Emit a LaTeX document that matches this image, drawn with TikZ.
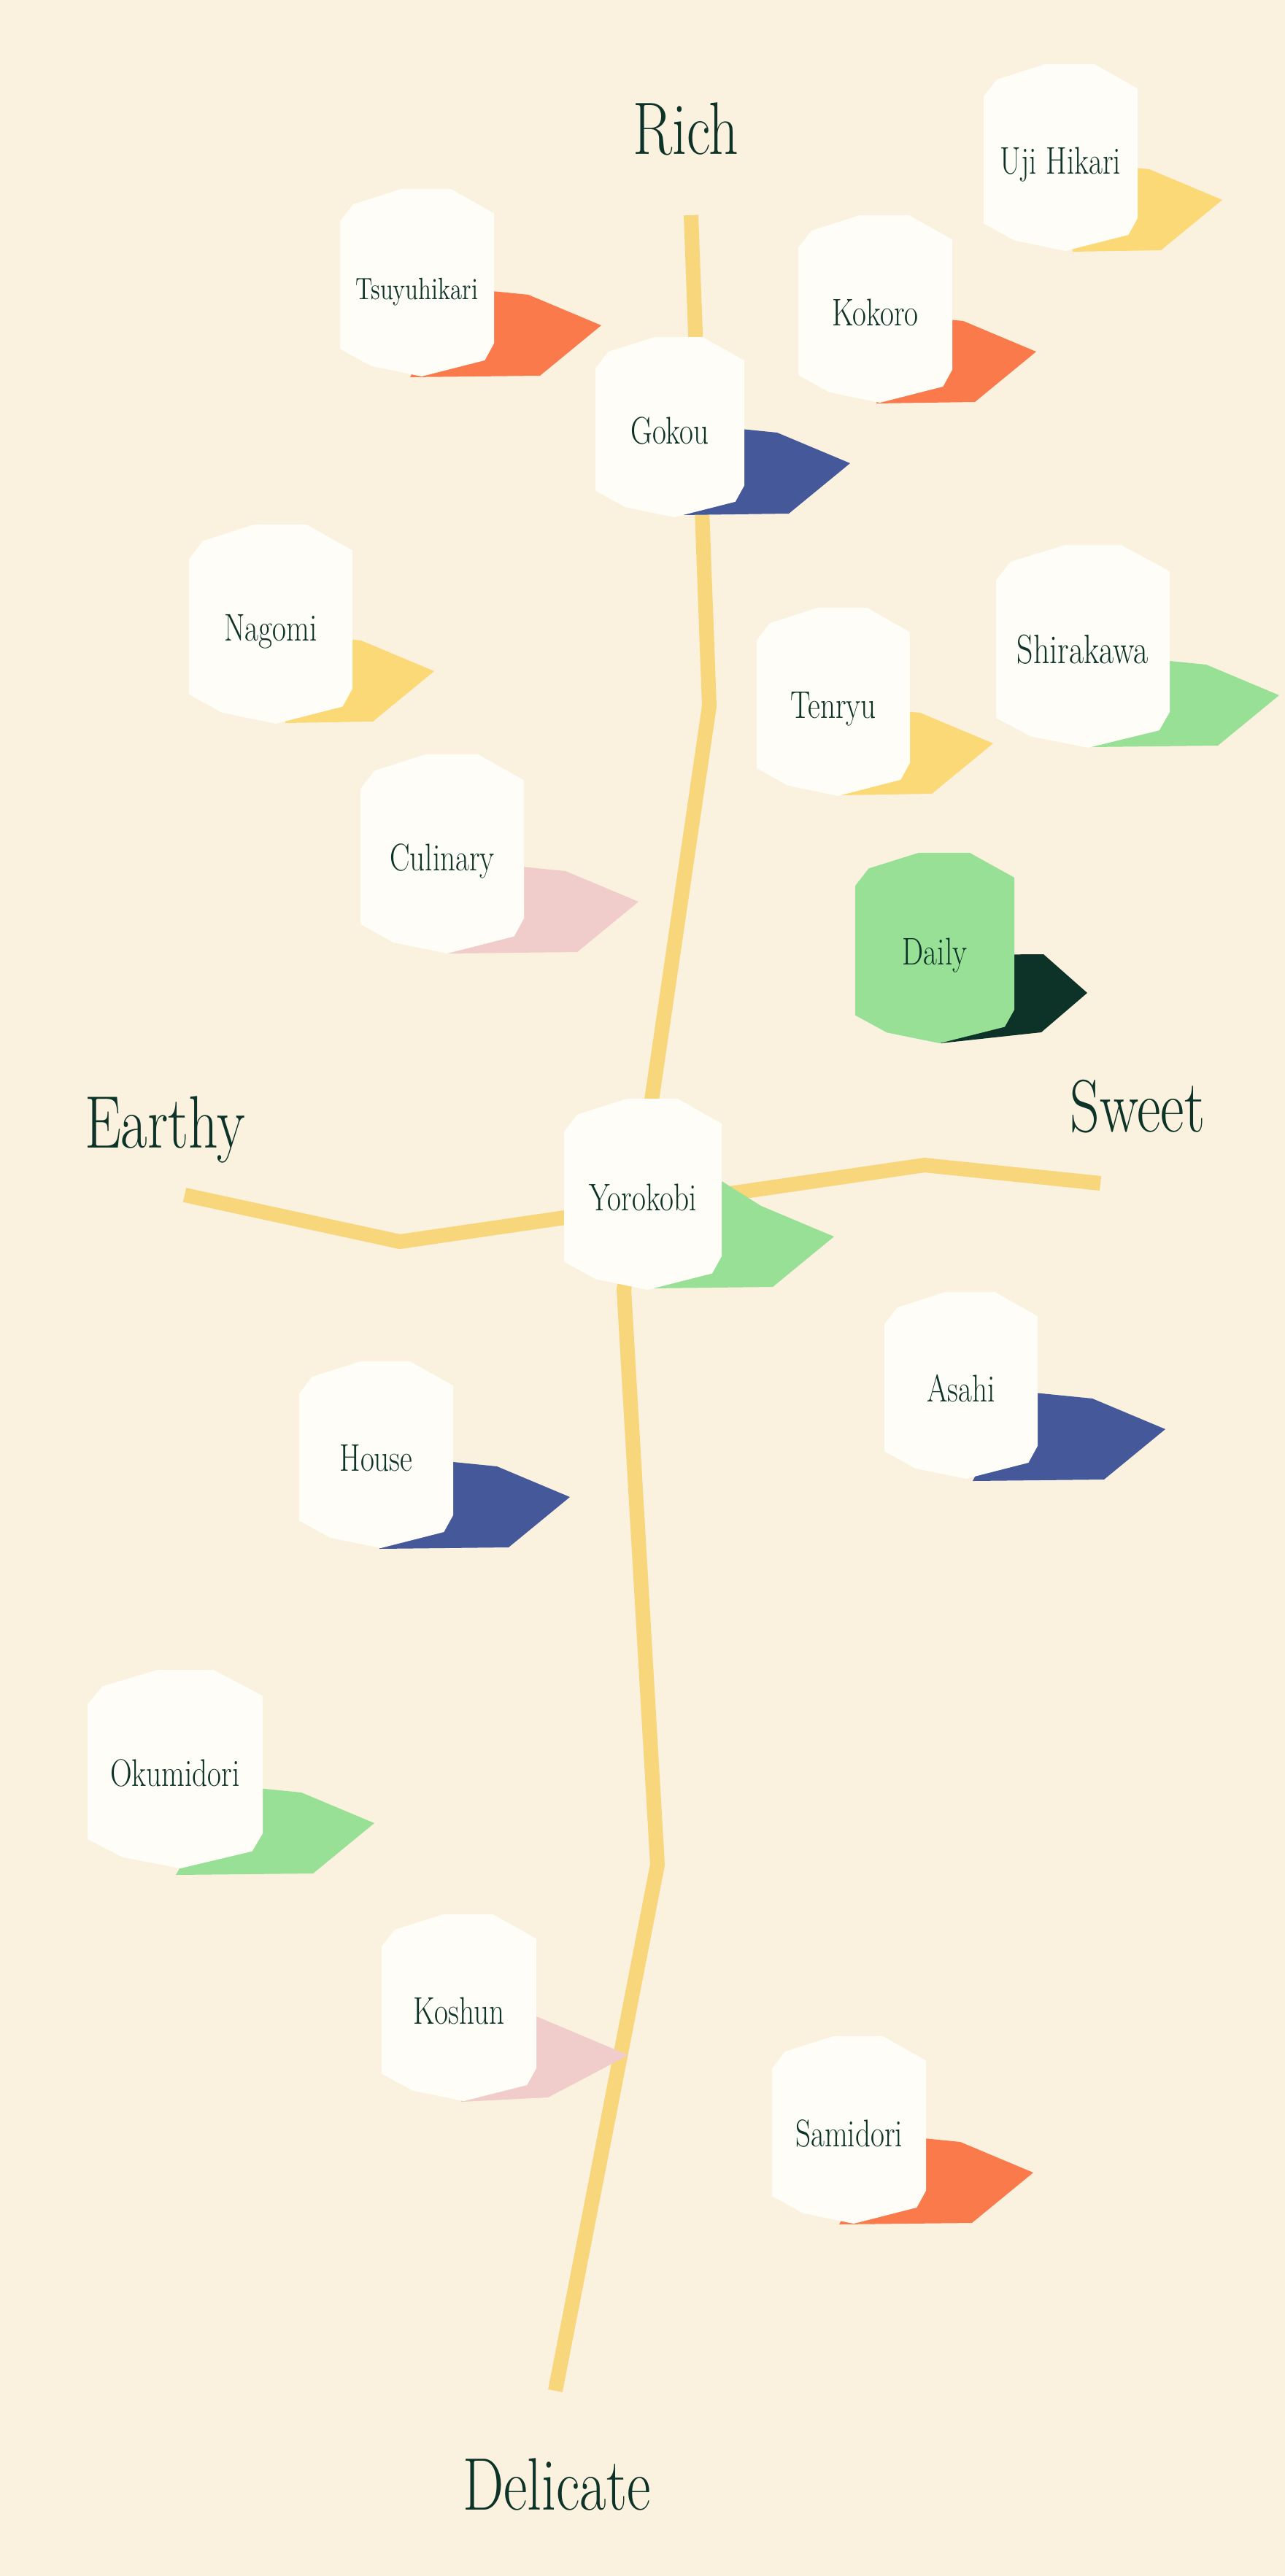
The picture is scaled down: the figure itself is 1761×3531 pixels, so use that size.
\documentclass[tikz,border=0pt]{standalone}
\usepackage{fontspec}
\definecolor{paper}{HTML}{FAF1DE}
\definecolor{teabag}{HTML}{FEFDF7}
\definecolor{ink}{HTML}{0D3328}
\definecolor{stem}{HTML}{F8D67B}
\definecolor{ember}{HTML}{FA7A4C}
\definecolor{indigo}{HTML}{44589A}
\definecolor{butter}{HTML}{FCD977}
\definecolor{leaf}{HTML}{97E096}
\definecolor{blush}{HTML}{F0CDCB}

% a tea: name, left, top, width, height, colour, label
\newcommand{\tea}[7]{%
  \begin{scope}[shift={(#2,#3)}, xscale=#4, yscale=#5]
    \fill[#6] (.398,0) -- (.72,0) -- (1,.13) -- (1,.824) -- (.94,.914)
      -- (.53,1) -- (.2,.944) -- (0,.853) -- (0,.173) -- (.085,.082) -- cycle;
    \node[tea] (#1) at (.5,.52) {#7};
  \end{scope}}
% a flag behind a tea: [top slope], colour, corner, bottom length
\newcommand{\flag}[4][-10]{%
  \fill[#2] (#3) ++(-100,#1) -- (#3) -- ++(100,42) -- ++(-84,69) -- ++(#4,2) -- cycle;}

\begin{document}
\begin{tikzpicture}[
    x=0.01cm, y=-0.01cm,
    stalk/.style={line width=0.2cm, draw=stem},
    tea/.style={text=ink, font=\fontsize{15}{18}\selectfont, xscale=0.78,
      anchor=base, yshift=-5pt},
    pole/.style={text=ink, font=\fontsize{29}{34}\selectfont, xscale=0.78,
      anchor=base},
  ]
  \fill[paper] (0,0) rectangle (1761,3531);

  % axes
  \coordinate (top) at (947,295);
  \coordinate (bend1) at (972,968);
  \coordinate (bend2) at (855,1768);
  \coordinate (bend3) at (901,2556);
  \coordinate (bottom) at (761,3277);
  \coordinate (left) at (253,1638);
  \coordinate (dip) at (548,1702);
  \coordinate (peak) at (1267,1597);
  \coordinate (right) at (1508,1622);
  \draw[stalk] (top) -- (bend1) -- (bend2) -- (bend3) -- (bottom);
  \draw[stalk] (left) -- (dip) -- (peak) -- (right);

  \node[pole] (rich) at (940,212) {Rich};
  \node[pole] (earthy) at (226,1573) {Earthy};
  \node[pole] (sweet) at (1559,1551) {Sweet};
  \node[pole] (delicate) at (763,3440) {Delicate};

  % flags
  \flag{butter}{1575,232}{-121}
  \flag{ember}{724,404}{-178}
  \flag{ember}{1320,440}{-135}
  \flag{indigo}{1065,593}{-148}
  \flag{butter}{495,878}{-120}
  \flag{leaf}{1653,911}{-174}
  \flag{butter}{1261,977}{-124}
  \flag{blush}{775,1194}{-180}
  \fill[ink] (1300,1309) -- (1430,1308) -- (1490,1361) -- (1427,1415) -- (1289,1430) -- cycle;
  \flag[-63]{leaf}{1043,1653}{-168}
  \flag{indigo}{1497,1917}{-180}
  \flag{indigo}{681,2010}{-177}
  \flag{leaf}{413,2457}{-188}
  \fill[blush] (650,2728) -- (861,2817) -- (751,2875) -- (632,2881) -- cycle;
  \flag{ember}{1316,2936}{-182}

  % teas
  \tea{uji}{1348}{88}{211}{256}{teabag}{Uji Hikari}
  \tea{tsuyuhikari}{466}{259}{211}{257}{teabag}{\fontsize{12}{14}\selectfont Tsuyuhikari}
  \tea{kokoro}{1094}{295}{211}{257}{teabag}{Kokoro}
  \tea{gokou}{816}{462}{204}{247}{teabag}{Gokou}
  \tea{nagomi}{259}{719}{224}{273}{teabag}{Nagomi}
  \tea{shirakawa}{1365}{747}{238}{278}{teabag}{\fontsize{16}{19}\selectfont Shirakawa}
  \tea{tenryu}{1037}{833}{210}{258}{teabag}{Tenryu}
  \tea{culinary}{494}{1034}{224}{273}{teabag}{Culinary}
  \tea{daily}{1172}{1169}{218}{261}{leaf}{Daily}
  \tea{yorokobi}{773}{1506}{216}{262}{teabag}{Yorokobi}
  \tea{asahi}{1212}{1771}{210}{256}{teabag}{Asahi}
  \tea{house}{410}{1866}{211}{256}{teabag}{House}
  \tea{okumidori}{120}{2289}{240}{272}{teabag}{Okumidori}
  \tea{koshun}{523}{2624}{212}{256}{teabag}{Koshun}
  \tea{samidori}{1058}{2791}{211}{257}{teabag}{Samidori}
\end{tikzpicture}
\end{document}
